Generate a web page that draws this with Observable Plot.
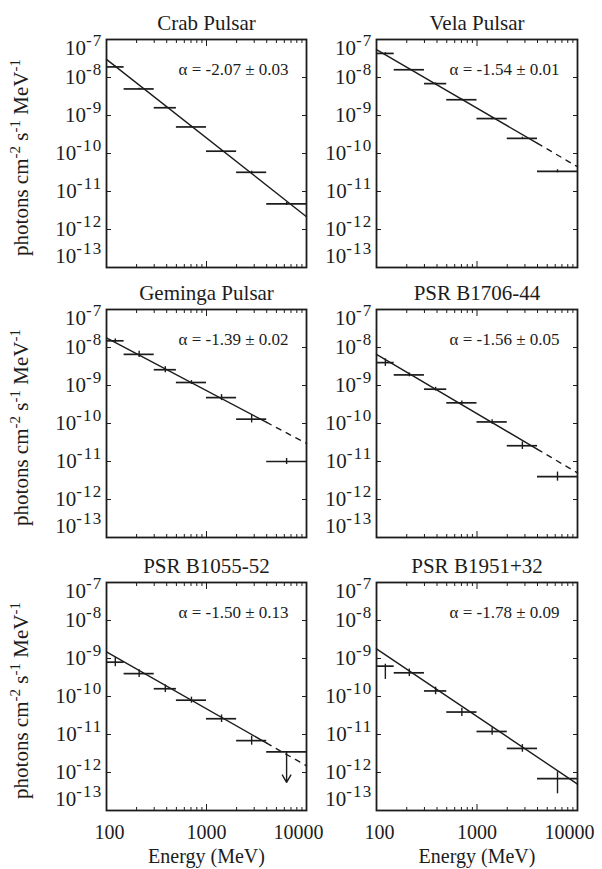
<!DOCTYPE html>
<html><head><meta charset="utf-8">
<script src="https://cdn.jsdelivr.net/npm/d3@7"></script>
<script src="https://cdn.jsdelivr.net/npm/@observablehq/plot@0.6"></script>
<style>
html,body{margin:0;padding:0;background:#fff;}
#chart{position:relative;width:602px;height:869px;overflow:hidden;background:#fff;}
#chart svg{position:absolute;}
</style></head><body><div id="chart"></div>
<script>
// ---------- data ----------
const pulsars = ["Crab Pulsar", "Vela Pulsar", "Geminga Pulsar", "PSR B1706-44", "PSR B1055-52", "PSR B1951+32"];
const alphaText = ["α = -2.07 ± 0.03", "α = -1.54 ± 0.01", "α = -1.39 ± 0.02", "α = -1.56 ± 0.05", "α = -1.50 ± 0.13", "α = -1.78 ± 0.09"];
const fitIndex = [-2.07, -1.54, -1.39, -1.56, -1.50, -1.78];
const fitNorm = [3.0e-8, 5.4e-8, 1.8e-8, 6.6e-9, 1.5e-9, 1.8e-9];   // flux of fit at 100 MeV
const fitSolidEnd = [10000, 4000, 4000, 4000, 4000, 10000];       // energy where fit turns dashed
const binLo = [100, 150, 300, 500, 1000, 2000, 4000];
const binHi = [150, 300, 500, 1000, 2000, 4000, 10000];

const fluxCrab    = [1.9e-8, 5.0e-9, 1.6e-9, 5.0e-10, 1.15e-10, 3.2e-11, 4.7e-12];
const fluxVela    = [4.3e-8, 1.6e-8, 6.9e-9, 2.6e-9, 8.3e-10, 2.5e-10, 3.4e-11];
const fluxGeminga = [1.5e-8, 6.6e-9, 2.6e-9, 1.2e-9, 4.8e-10, 1.3e-10, 1.0e-11];
const fluxB1706   = [4.0e-9, 1.9e-9, 8.0e-10, 3.5e-10, 1.1e-10, 2.6e-11, 4.0e-12];
const fluxB1055   = [8.0e-10, 4.0e-10, 1.6e-10, 8.0e-11, 2.6e-11, 6.9e-12, 3.5e-12];
const fluxB1951   = [6.3e-10, 4.2e-10, 1.4e-10, 3.9e-11, 1.2e-11, 4.3e-12, 6.9e-13];

// error bar half-lengths in decades (up / down)
const errUpCrab      = [0.02, 0.02, 0.02, 0.02, 0.02, 0.03, 0.04];
const errDownCrab    = [0.02, 0.02, 0.02, 0.02, 0.02, 0.03, 0.04];
const errUpVela      = [0.02, 0.02, 0.02, 0.02, 0.03, 0.03, 0.04];
const errDownVela    = [0.02, 0.02, 0.02, 0.02, 0.03, 0.03, 0.04];
const errUpGeminga   = [0.05, 0.08, 0.08, 0.05, 0.08, 0.10, 0.08];
const errDownGeminga = [0.05, 0.08, 0.08, 0.05, 0.08, 0.10, 0.08];
const errUpB1706     = [0.10, 0.05, 0.05, 0.05, 0.06, 0.10, 0.12];
const errDownB1706   = [0.10, 0.05, 0.05, 0.05, 0.06, 0.10, 0.12];
const errUpB1055     = [0.12, 0.10, 0.10, 0.08, 0.10, 0.12, 0];
const errDownB1055   = [0.12, 0.10, 0.10, 0.08, 0.10, 0.12, 0];
const errUpB1951     = [0.05, 0.10, 0.10, 0.10, 0.10, 0.10, 0.18];
const errDownB1951   = [0.35, 0.10, 0.10, 0.12, 0.10, 0.10, 0.40];

const upperLimitIndex = [null, null, null, null, 6, null];
const upperLimitEnd   = [null, null, null, null, 5.5e-13, null];

const yTicks = [1e-13, 1e-12, 1e-11, 1e-10, 1e-9, 1e-8, 1e-7];
const xMajor = [100, 1000, 10000];
const xMinor = [200, 300, 400, 500, 600, 700, 800, 900, 2000, 3000, 4000, 5000, 6000, 7000, 8000, 9000];
const yLabel = "photons cm^-2 s^-1 MeV^-1";
const xLabel = "Energy (MeV)";

const fluxes = [fluxCrab, fluxVela, fluxGeminga, fluxB1706, fluxB1055, fluxB1951];
const errUp = [errUpCrab, errUpVela, errUpGeminga, errUpB1706, errUpB1055, errUpB1951];
const errDown = [errDownCrab, errDownVela, errDownGeminga, errDownB1706, errDownB1055, errDownB1951];

// ---------- layout ----------
const ink = "#1c1c1c";
const colLeft = [0, 300], colWidth = [310, 302], colML = [106, 76], colMR = [4, 25];
const rowTop = [0, 270, 544], rowMT = [39, 39, 38], rowMB = [3, 7, 59];
const frameH = 228;
const NS = "http://www.w3.org/2000/svg";

function rebuild(t, str, {dx = 0, dy = 0, supSize = 14, shift = 8, supSpacing = 0} = {}) {
  const parts = str.split(/\^(-?\d+)/);
  t.textContent = "";
  let first = true;
  parts.forEach((p, k) => {
    if (!p && k > 0) return;
    const ts = document.createElementNS(NS, "tspan");
    const sup = k % 2 === 1;
    let ddy = 0;
    if (sup) ddy -= shift; else if (k > 0) ddy += shift;
    if (first) { ddy += dy; if (dx) ts.setAttribute("dx", dx); first = false; }
    if (ddy) ts.setAttribute("dy", ddy);
    if (sup) {
      ts.style.fontSize = supSize + "px";
      if (supSpacing) ts.style.letterSpacing = supSpacing + "px";
    }
    ts.textContent = p;
    t.appendChild(ts);
  });
}

const chart = document.getElementById("chart");

for (let i = 0; i < 6; i++) {
  const col = i % 2, row = Math.floor(i / 2);
  const flux = fluxes[i];
  const bins = flux.map((f, j) => ({
    lo: binLo[j], hi: binHi[j], mid: Math.sqrt(binLo[j] * binHi[j]), f,
    top: f * 10 ** errUp[i][j], bot: f / 10 ** errDown[i][j],
    ul: upperLimitIndex[i] === j
  }));
  const fitAt = (e) => ({e, f: fitNorm[i] * (e / 100) ** fitIndex[i]});
  const fitSolid = [100, fitSolidEnd[i]].map(fitAt);
  const fitDash = fitSolidEnd[i] < 10000 ? [fitSolidEnd[i], 10000].map(fitAt) : [];

  const marks = [
    Plot.frame({stroke: ink, strokeWidth: 1.8}),
    Plot.axisY(yTicks, {anchor: "left", tickSize: 5, dx: 5, fill: "none", stroke: ink, label: null}),
    Plot.axisY(yTicks, {anchor: "right", tickSize: 5, dx: -5, fill: "none", stroke: ink, label: null}),
    Plot.axisY(yTicks, {anchor: "left", tickSize: 0, tickPadding: 4, fill: ink, fontSize: 21,
      tickFormat: d => "10^" + Math.round(Math.log10(d)), label: null}),
    Plot.axisX(xMajor, {anchor: "bottom", tickSize: 6, dy: -6, fill: "none", stroke: ink, label: null}),
    Plot.axisX(xMinor, {anchor: "bottom", tickSize: 3, dy: -3, fill: "none", stroke: ink, label: null}),
    Plot.axisX(xMajor, {anchor: "top", tickSize: 6, dy: 6, fill: "none", stroke: ink, label: null}),
    Plot.axisX(xMinor, {anchor: "top", tickSize: 3, dy: 3, fill: "none", stroke: ink, label: null}),
    Plot.line(fitSolid, {x: "e", y: "f", stroke: ink, strokeWidth: 1.4}),
    Plot.line(fitDash, {x: "e", y: "f", stroke: ink, strokeWidth: 1.4, strokeDasharray: "5,6"}),
    Plot.ruleY(bins, {y: "f", x1: "lo", x2: "hi", stroke: ink, strokeWidth: 1.7}),
    Plot.ruleX(bins.filter(d => !d.ul), {x: "mid", y1: "bot", y2: "top", stroke: ink, strokeWidth: 1.4}),
    Plot.arrow(bins.filter(d => d.ul), {x1: "mid", x2: "mid", y1: "f", y2: () => upperLimitEnd[i],
      stroke: ink, strokeWidth: 1.4, headLength: 9}),
    Plot.text([alphaText[i]], {frameAnchor: "top-right", dx: -18, dy: 30, textAnchor: "end",
      lineAnchor: "middle", fontSize: 17, fill: ink}),
    Plot.text([pulsars[i]], {frameAnchor: "top", dy: -16, lineAnchor: "middle", fontSize: 21, fill: ink})
  ];
  if (row === 2) {
    marks.push(
      Plot.axisX(xMajor, {anchor: "bottom", tickSize: 0, tickPadding: 14, fill: ink, fontSize: 20,
        tickFormat: d => String(d), label: null}),
      Plot.text([xLabel], {frameAnchor: "bottom", dy: 46, lineAnchor: "middle", fontSize: 20, fill: ink})
    );
  }
  if (col === 0) {
    marks.push(Plot.text([yLabel], {frameAnchor: "left", dx: -85, dy: 4, rotate: -90, textAnchor: "middle",
      lineAnchor: "middle", fontSize: 21, fill: ink}));
  }

  const svg = Plot.plot({
    width: colWidth[col],
    height: rowMT[row] + frameH + rowMB[row],
    marginLeft: colML[col], marginRight: colMR[col],
    marginTop: rowMT[row], marginBottom: rowMB[row],
    style: {fontFamily: "'Liberation Serif', 'DejaVu Serif', serif", color: ink, background: "transparent", overflow: "visible"},
    x: {type: "log", domain: [100, 10000]},
    y: {type: "log", domain: [1e-13, 1e-7]},
    marks
  });
  svg.style.left = colLeft[col] + "px";
  svg.style.top = rowTop[row] + "px";

  // superscripts and label nudges
  svg.querySelectorAll('g[aria-label="y-axis tick label"] text').forEach(t => {
    const s = t.textContent;
    const off = s === "10^-7" ? 9 : s === "10^-13" ? -11 : 0;
    rebuild(t, s, {dy: off, supSize: 17, shift: 9, supSpacing: 1.2});
  });
  svg.querySelectorAll('g[aria-label="x-axis tick label"] text').forEach(t => {
    const s = t.textContent;
    const off = s === "100" ? 3 : s === "10000" ? -8 : 0;
    rebuild(t, s, {dx: off});
  });
  svg.querySelectorAll("text").forEach(t => {
    const s = t.textContent;
    if (s === yLabel) rebuild(t, s, {supSize: 15, shift: 8});
  });
  chart.appendChild(svg);
}
</script></body></html>
